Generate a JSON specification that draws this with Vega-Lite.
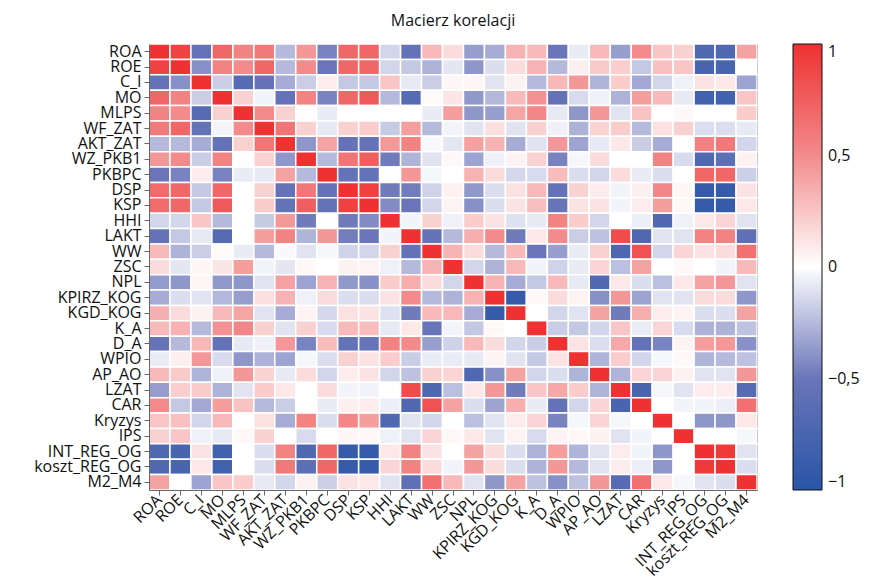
{
"$schema": "https://vega.github.io/schema/vega-lite/v6.json",
"width": 608, "height": 446,
"autosize": "none",
"padding": {"left": 149, "top": 44, "right": 112, "bottom": 97},
"background": "white",
"title": {"text": "Macierz korelacji", "font": "Open Sans", "fontSize": 16, "fontWeight": "normal", "color": "#111", "offset": 14},
"config": {
  "view": {"stroke": "#222", "strokeWidth": 1},
  "axis": {"labelFont": "Open Sans", "labelFontSize": 16, "labelColor": "#111", "tickColor": "#666", "tickSize": 5, "domainColor": "#666", "title": null, "labelPadding": 3}
},
"data": {"values": [
{"y":"ROA","x":"ROA","r":1},{"y":"ROA","x":"ROE","r":0.9},{"y":"ROA","x":"C_I","r":-0.55},{"y":"ROA","x":"MO","r":0.7},{"y":"ROA","x":"MLPS","r":0.55},{"y":"ROA","x":"WF_ZAT","r":0.6},{"y":"ROA","x":"AKT_ZAT","r":-0.25},{"y":"ROA","x":"WZ_PKB1","r":0.45},{"y":"ROA","x":"PKBPC","r":-0.45},{"y":"ROA","x":"DSP","r":0.7},{"y":"ROA","x":"KSP","r":0.7},{"y":"ROA","x":"HHI","r":-0.15},{"y":"ROA","x":"LAKT","r":-0.55},{"y":"ROA","x":"WW","r":0.3},{"y":"ROA","x":"ZSC","r":0.15},{"y":"ROA","x":"NPL","r":-0.35},{"y":"ROA","x":"KPIRZ_KOG","r":-0.3},{"y":"ROA","x":"KGD_KOG","r":0.33},{"y":"ROA","x":"K_A","r":0.3},{"y":"ROA","x":"D_A","r":-0.5},{"y":"ROA","x":"WPIO","r":-0.07},{"y":"ROA","x":"AP_AO","r":0.3},{"y":"ROA","x":"LZAT","r":-0.35},{"y":"ROA","x":"CAR","r":0.5},{"y":"ROA","x":"Kryzys","r":0.25},{"y":"ROA","x":"IPS","r":0.2},{"y":"ROA","x":"INT_REG_OG","r":-0.7},{"y":"ROA","x":"koszt_REG_OG","r":-0.7},{"y":"ROA","x":"M2_M4","r":0.4},
{"y":"ROE","x":"ROA","r":0.9},{"y":"ROE","x":"ROE","r":1},{"y":"ROE","x":"C_I","r":-0.4},{"y":"ROE","x":"MO","r":0.55},{"y":"ROE","x":"MLPS","r":0.5},{"y":"ROE","x":"WF_ZAT","r":0.7},{"y":"ROE","x":"AKT_ZAT","r":-0.25},{"y":"ROE","x":"WZ_PKB1","r":0.5},{"y":"ROE","x":"PKBPC","r":-0.5},{"y":"ROE","x":"DSP","r":0.7},{"y":"ROE","x":"KSP","r":0.7},{"y":"ROE","x":"HHI","r":-0.15},{"y":"ROE","x":"LAKT","r":-0.2},{"y":"ROE","x":"WW","r":-0.28},{"y":"ROE","x":"ZSC","r":-0.09},{"y":"ROE","x":"NPL","r":-0.38},{"y":"ROE","x":"KPIRZ_KOG","r":-0.12},{"y":"ROE","x":"KGD_KOG","r":0.15},{"y":"ROE","x":"K_A","r":0.33},{"y":"ROE","x":"D_A","r":-0.25},{"y":"ROE","x":"WPIO","r":0.07},{"y":"ROE","x":"AP_AO","r":0.23},{"y":"ROE","x":"LZAT","r":0.21},{"y":"ROE","x":"CAR","r":-0.2},{"y":"ROE","x":"Kryzys","r":0.27},{"y":"ROE","x":"IPS","r":0.25},{"y":"ROE","x":"INT_REG_OG","r":-0.75},{"y":"ROE","x":"koszt_REG_OG","r":-0.75},{"y":"ROE","x":"M2_M4","r":0},
{"y":"C_I","x":"ROA","r":-0.55},{"y":"C_I","x":"ROE","r":-0.4},{"y":"C_I","x":"C_I","r":1},{"y":"C_I","x":"MO","r":-0.18},{"y":"C_I","x":"MLPS","r":-0.65},{"y":"C_I","x":"WF_ZAT","r":-0.55},{"y":"C_I","x":"AKT_ZAT","r":-0.3},{"y":"C_I","x":"WZ_PKB1","r":-0.18},{"y":"C_I","x":"PKBPC","r":0.08},{"y":"C_I","x":"DSP","r":-0.2},{"y":"C_I","x":"KSP","r":-0.2},{"y":"C_I","x":"HHI","r":0.25},{"y":"C_I","x":"LAKT","r":-0.08},{"y":"C_I","x":"WW","r":-0.18},{"y":"C_I","x":"ZSC","r":0.04},{"y":"C_I","x":"NPL","r":0.04},{"y":"C_I","x":"KPIRZ_KOG","r":-0.1},{"y":"C_I","x":"KGD_KOG","r":0.06},{"y":"C_I","x":"K_A","r":-0.25},{"y":"C_I","x":"D_A","r":0.31},{"y":"C_I","x":"WPIO","r":0.45},{"y":"C_I","x":"AP_AO","r":-0.27},{"y":"C_I","x":"LZAT","r":0.22},{"y":"C_I","x":"CAR","r":-0.31},{"y":"C_I","x":"Kryzys","r":-0.15},{"y":"C_I","x":"IPS","r":-0.05},{"y":"C_I","x":"INT_REG_OG","r":0.12},{"y":"C_I","x":"koszt_REG_OG","r":0.1},{"y":"C_I","x":"M2_M4","r":-0.33},
{"y":"MO","x":"ROA","r":0.7},{"y":"MO","x":"ROE","r":0.55},{"y":"MO","x":"C_I","r":-0.18},{"y":"MO","x":"MO","r":1},{"y":"MO","x":"MLPS","r":0.2},{"y":"MO","x":"WF_ZAT","r":-0.04},{"y":"MO","x":"AKT_ZAT","r":-0.55},{"y":"MO","x":"WZ_PKB1","r":0.55},{"y":"MO","x":"PKBPC","r":-0.45},{"y":"MO","x":"DSP","r":0.7},{"y":"MO","x":"KSP","r":0.78},{"y":"MO","x":"HHI","r":-0.25},{"y":"MO","x":"LAKT","r":-0.65},{"y":"MO","x":"WW","r":0.02},{"y":"MO","x":"ZSC","r":0.11},{"y":"MO","x":"NPL","r":-0.37},{"y":"MO","x":"KPIRZ_KOG","r":-0.26},{"y":"MO","x":"KGD_KOG","r":0.3},{"y":"MO","x":"K_A","r":0.47},{"y":"MO","x":"D_A","r":-0.55},{"y":"MO","x":"WPIO","r":-0.13},{"y":"MO","x":"AP_AO","r":-0.05},{"y":"MO","x":"LZAT","r":-0.28},{"y":"MO","x":"CAR","r":0.42},{"y":"MO","x":"Kryzys","r":0.3},{"y":"MO","x":"IPS","r":-0.08},{"y":"MO","x":"INT_REG_OG","r":-0.8},{"y":"MO","x":"koszt_REG_OG","r":-0.8},{"y":"MO","x":"M2_M4","r":0.25},
{"y":"MLPS","x":"ROA","r":0.55},{"y":"MLPS","x":"ROE","r":0.5},{"y":"MLPS","x":"C_I","r":-0.65},{"y":"MLPS","x":"MO","r":0.2},{"y":"MLPS","x":"MLPS","r":1},{"y":"MLPS","x":"WF_ZAT","r":0.5},{"y":"MLPS","x":"AKT_ZAT","r":0.2},{"y":"MLPS","x":"WZ_PKB1","r":0.01},{"y":"MLPS","x":"PKBPC","r":-0.07},{"y":"MLPS","x":"DSP","r":0},{"y":"MLPS","x":"KSP","r":0},{"y":"MLPS","x":"HHI","r":0},{"y":"MLPS","x":"LAKT","r":0},{"y":"MLPS","x":"WW","r":-0.07},{"y":"MLPS","x":"ZSC","r":0.42},{"y":"MLPS","x":"NPL","r":-0.38},{"y":"MLPS","x":"KPIRZ_KOG","r":-0.35},{"y":"MLPS","x":"KGD_KOG","r":0.39},{"y":"MLPS","x":"K_A","r":0.52},{"y":"MLPS","x":"D_A","r":-0.08},{"y":"MLPS","x":"WPIO","r":-0.38},{"y":"MLPS","x":"AP_AO","r":0.45},{"y":"MLPS","x":"LZAT","r":-0.1},{"y":"MLPS","x":"CAR","r":0.26},{"y":"MLPS","x":"Kryzys","r":0},{"y":"MLPS","x":"IPS","r":0.03},{"y":"MLPS","x":"INT_REG_OG","r":0},{"y":"MLPS","x":"koszt_REG_OG","r":0},{"y":"MLPS","x":"M2_M4","r":0.22},
{"y":"WF_ZAT","x":"ROA","r":0.6},{"y":"WF_ZAT","x":"ROE","r":0.7},{"y":"WF_ZAT","x":"C_I","r":-0.55},{"y":"WF_ZAT","x":"MO","r":-0.04},{"y":"WF_ZAT","x":"MLPS","r":0.5},{"y":"WF_ZAT","x":"WF_ZAT","r":1},{"y":"WF_ZAT","x":"AKT_ZAT","r":0.62},{"y":"WF_ZAT","x":"WZ_PKB1","r":0.2},{"y":"WF_ZAT","x":"PKBPC","r":-0.08},{"y":"WF_ZAT","x":"DSP","r":0.2},{"y":"WF_ZAT","x":"KSP","r":0.22},{"y":"WF_ZAT","x":"HHI","r":-0.19},{"y":"WF_ZAT","x":"LAKT","r":0.42},{"y":"WF_ZAT","x":"WW","r":-0.25},{"y":"WF_ZAT","x":"ZSC","r":-0.04},{"y":"WF_ZAT","x":"NPL","r":-0.1},{"y":"WF_ZAT","x":"KPIRZ_KOG","r":0.14},{"y":"WF_ZAT","x":"KGD_KOG","r":-0.1},{"y":"WF_ZAT","x":"K_A","r":0.2},{"y":"WF_ZAT","x":"D_A","r":-0.05},{"y":"WF_ZAT","x":"WPIO","r":-0.28},{"y":"WF_ZAT","x":"AP_AO","r":0.19},{"y":"WF_ZAT","x":"LZAT","r":0.22},{"y":"WF_ZAT","x":"CAR","r":-0.25},{"y":"WF_ZAT","x":"Kryzys","r":0.13},{"y":"WF_ZAT","x":"IPS","r":0.2},{"y":"WF_ZAT","x":"INT_REG_OG","r":-0.12},{"y":"WF_ZAT","x":"koszt_REG_OG","r":-0.12},{"y":"WF_ZAT","x":"M2_M4","r":-0.08},
{"y":"AKT_ZAT","x":"ROA","r":-0.25},{"y":"AKT_ZAT","x":"ROE","r":-0.25},{"y":"AKT_ZAT","x":"C_I","r":-0.3},{"y":"AKT_ZAT","x":"MO","r":-0.55},{"y":"AKT_ZAT","x":"MLPS","r":0.2},{"y":"AKT_ZAT","x":"WF_ZAT","r":0.62},{"y":"AKT_ZAT","x":"AKT_ZAT","r":1},{"y":"AKT_ZAT","x":"WZ_PKB1","r":-0.38},{"y":"AKT_ZAT","x":"PKBPC","r":0.4},{"y":"AKT_ZAT","x":"DSP","r":-0.55},{"y":"AKT_ZAT","x":"KSP","r":-0.55},{"y":"AKT_ZAT","x":"HHI","r":0.44},{"y":"AKT_ZAT","x":"LAKT","r":0.55},{"y":"AKT_ZAT","x":"WW","r":-0.02},{"y":"AKT_ZAT","x":"ZSC","r":-0.09},{"y":"AKT_ZAT","x":"NPL","r":0.41},{"y":"AKT_ZAT","x":"KPIRZ_KOG","r":0.33},{"y":"AKT_ZAT","x":"KGD_KOG","r":-0.3},{"y":"AKT_ZAT","x":"K_A","r":-0.1},{"y":"AKT_ZAT","x":"D_A","r":0.45},{"y":"AKT_ZAT","x":"WPIO","r":-0.33},{"y":"AKT_ZAT","x":"AP_AO","r":-0.08},{"y":"AKT_ZAT","x":"LZAT","r":0.1},{"y":"AKT_ZAT","x":"CAR","r":-0.18},{"y":"AKT_ZAT","x":"Kryzys","r":-0.3},{"y":"AKT_ZAT","x":"IPS","r":0},{"y":"AKT_ZAT","x":"INT_REG_OG","r":0.55},{"y":"AKT_ZAT","x":"koszt_REG_OG","r":0.6},{"y":"AKT_ZAT","x":"M2_M4","r":-0.15},
{"y":"WZ_PKB1","x":"ROA","r":0.45},{"y":"WZ_PKB1","x":"ROE","r":0.5},{"y":"WZ_PKB1","x":"C_I","r":-0.18},{"y":"WZ_PKB1","x":"MO","r":0.55},{"y":"WZ_PKB1","x":"MLPS","r":0.01},{"y":"WZ_PKB1","x":"WF_ZAT","r":0.2},{"y":"WZ_PKB1","x":"AKT_ZAT","r":-0.38},{"y":"WZ_PKB1","x":"WZ_PKB1","r":1},{"y":"WZ_PKB1","x":"PKBPC","r":-0.25},{"y":"WZ_PKB1","x":"DSP","r":0.62},{"y":"WZ_PKB1","x":"KSP","r":0.75},{"y":"WZ_PKB1","x":"HHI","r":-0.48},{"y":"WZ_PKB1","x":"LAKT","r":-0.27},{"y":"WZ_PKB1","x":"WW","r":-0.1},{"y":"WZ_PKB1","x":"ZSC","r":0.03},{"y":"WZ_PKB1","x":"NPL","r":-0.33},{"y":"WZ_PKB1","x":"KPIRZ_KOG","r":-0.05},{"y":"WZ_PKB1","x":"KGD_KOG","r":0.05},{"y":"WZ_PKB1","x":"K_A","r":0.2},{"y":"WZ_PKB1","x":"D_A","r":-0.45},{"y":"WZ_PKB1","x":"WPIO","r":-0.03},{"y":"WZ_PKB1","x":"AP_AO","r":0.15},{"y":"WZ_PKB1","x":"LZAT","r":0},{"y":"WZ_PKB1","x":"CAR","r":0},{"y":"WZ_PKB1","x":"Kryzys","r":0.55},{"y":"WZ_PKB1","x":"IPS","r":-0.13},{"y":"WZ_PKB1","x":"INT_REG_OG","r":-0.7},{"y":"WZ_PKB1","x":"koszt_REG_OG","r":-0.6},{"y":"WZ_PKB1","x":"M2_M4","r":0.06},
{"y":"PKBPC","x":"ROA","r":-0.5},{"y":"PKBPC","x":"ROE","r":-0.45},{"y":"PKBPC","x":"C_I","r":0.08},{"y":"PKBPC","x":"MO","r":-0.45},{"y":"PKBPC","x":"MLPS","r":-0.07},{"y":"PKBPC","x":"WF_ZAT","r":-0.08},{"y":"PKBPC","x":"AKT_ZAT","r":0.4},{"y":"PKBPC","x":"WZ_PKB1","r":-0.25},{"y":"PKBPC","x":"PKBPC","r":1},{"y":"PKBPC","x":"DSP","r":-0.55},{"y":"PKBPC","x":"KSP","r":-0.55},{"y":"PKBPC","x":"HHI","r":0},{"y":"PKBPC","x":"LAKT","r":0.45},{"y":"PKBPC","x":"WW","r":-0.03},{"y":"PKBPC","x":"ZSC","r":0},{"y":"PKBPC","x":"NPL","r":0.33},{"y":"PKBPC","x":"KPIRZ_KOG","r":0.16},{"y":"PKBPC","x":"KGD_KOG","r":-0.14},{"y":"PKBPC","x":"K_A","r":-0.13},{"y":"PKBPC","x":"D_A","r":0.29},{"y":"PKBPC","x":"WPIO","r":-0.12},{"y":"PKBPC","x":"AP_AO","r":-0.15},{"y":"PKBPC","x":"LZAT","r":0.15},{"y":"PKBPC","x":"CAR","r":-0.07},{"y":"PKBPC","x":"Kryzys","r":-0.12},{"y":"PKBPC","x":"IPS","r":0},{"y":"PKBPC","x":"INT_REG_OG","r":0.7},{"y":"PKBPC","x":"koszt_REG_OG","r":0.7},{"y":"PKBPC","x":"M2_M4","r":-0.17},
{"y":"DSP","x":"ROA","r":0.68},{"y":"DSP","x":"ROE","r":0.7},{"y":"DSP","x":"C_I","r":-0.2},{"y":"DSP","x":"MO","r":0.7},{"y":"DSP","x":"MLPS","r":0},{"y":"DSP","x":"WF_ZAT","r":0.2},{"y":"DSP","x":"AKT_ZAT","r":-0.55},{"y":"DSP","x":"WZ_PKB1","r":0.61},{"y":"DSP","x":"PKBPC","r":-0.55},{"y":"DSP","x":"DSP","r":1},{"y":"DSP","x":"KSP","r":0.91},{"y":"DSP","x":"HHI","r":-0.48},{"y":"DSP","x":"LAKT","r":-0.47},{"y":"DSP","x":"WW","r":-0.16},{"y":"DSP","x":"ZSC","r":0.06},{"y":"DSP","x":"NPL","r":-0.37},{"y":"DSP","x":"KPIRZ_KOG","r":-0.12},{"y":"DSP","x":"KGD_KOG","r":0.13},{"y":"DSP","x":"K_A","r":0.3},{"y":"DSP","x":"D_A","r":-0.55},{"y":"DSP","x":"WPIO","r":0.2},{"y":"DSP","x":"AP_AO","r":0.08},{"y":"DSP","x":"LZAT","r":-0.04},{"y":"DSP","x":"CAR","r":0.07},{"y":"DSP","x":"Kryzys","r":0.52},{"y":"DSP","x":"IPS","r":0.04},{"y":"DSP","x":"INT_REG_OG","r":-0.9},{"y":"DSP","x":"koszt_REG_OG","r":-0.9},{"y":"DSP","x":"M2_M4","r":0.12},
{"y":"KSP","x":"ROA","r":0.68},{"y":"KSP","x":"ROE","r":0.7},{"y":"KSP","x":"C_I","r":-0.2},{"y":"KSP","x":"MO","r":0.78},{"y":"KSP","x":"MLPS","r":0},{"y":"KSP","x":"WF_ZAT","r":0.22},{"y":"KSP","x":"AKT_ZAT","r":-0.55},{"y":"KSP","x":"WZ_PKB1","r":0.75},{"y":"KSP","x":"PKBPC","r":-0.55},{"y":"KSP","x":"DSP","r":0.91},{"y":"KSP","x":"KSP","r":1},{"y":"KSP","x":"HHI","r":-0.42},{"y":"KSP","x":"LAKT","r":-0.5},{"y":"KSP","x":"WW","r":-0.15},{"y":"KSP","x":"ZSC","r":0.05},{"y":"KSP","x":"NPL","r":-0.4},{"y":"KSP","x":"KPIRZ_KOG","r":-0.12},{"y":"KSP","x":"KGD_KOG","r":0.12},{"y":"KSP","x":"K_A","r":0.28},{"y":"KSP","x":"D_A","r":-0.52},{"y":"KSP","x":"WPIO","r":0.12},{"y":"KSP","x":"AP_AO","r":0.12},{"y":"KSP","x":"LZAT","r":-0.04},{"y":"KSP","x":"CAR","r":0.08},{"y":"KSP","x":"Kryzys","r":0.42},{"y":"KSP","x":"IPS","r":0.03},{"y":"KSP","x":"INT_REG_OG","r":-0.9},{"y":"KSP","x":"koszt_REG_OG","r":-0.9},{"y":"KSP","x":"M2_M4","r":0.1},
{"y":"HHI","x":"ROA","r":-0.15},{"y":"HHI","x":"ROE","r":-0.15},{"y":"HHI","x":"C_I","r":0.25},{"y":"HHI","x":"MO","r":-0.25},{"y":"HHI","x":"MLPS","r":0},{"y":"HHI","x":"WF_ZAT","r":-0.19},{"y":"HHI","x":"AKT_ZAT","r":0.44},{"y":"HHI","x":"WZ_PKB1","r":-0.48},{"y":"HHI","x":"PKBPC","r":0},{"y":"HHI","x":"DSP","r":-0.48},{"y":"HHI","x":"KSP","r":-0.42},{"y":"HHI","x":"HHI","r":1},{"y":"HHI","x":"LAKT","r":-0.04},{"y":"HHI","x":"WW","r":0.2},{"y":"HHI","x":"ZSC","r":-0.05},{"y":"HHI","x":"NPL","r":0.22},{"y":"HHI","x":"KPIRZ_KOG","r":0.12},{"y":"HHI","x":"KGD_KOG","r":-0.11},{"y":"HHI","x":"K_A","r":-0.08},{"y":"HHI","x":"D_A","r":0.55},{"y":"HHI","x":"WPIO","r":0.22},{"y":"HHI","x":"AP_AO","r":-0.15},{"y":"HHI","x":"LZAT","r":0},{"y":"HHI","x":"CAR","r":-0.06},{"y":"HHI","x":"Kryzys","r":-0.7},{"y":"HHI","x":"IPS","r":-0.05},{"y":"HHI","x":"INT_REG_OG","r":0.1},{"y":"HHI","x":"koszt_REG_OG","r":0.18},{"y":"HHI","x":"M2_M4","r":-0.1},
{"y":"LAKT","x":"ROA","r":-0.55},{"y":"LAKT","x":"ROE","r":-0.2},{"y":"LAKT","x":"C_I","r":-0.08},{"y":"LAKT","x":"MO","r":-0.65},{"y":"LAKT","x":"MLPS","r":0},{"y":"LAKT","x":"WF_ZAT","r":0.42},{"y":"LAKT","x":"AKT_ZAT","r":0.55},{"y":"LAKT","x":"WZ_PKB1","r":-0.27},{"y":"LAKT","x":"PKBPC","r":0.45},{"y":"LAKT","x":"DSP","r":-0.47},{"y":"LAKT","x":"KSP","r":-0.5},{"y":"LAKT","x":"HHI","r":-0.04},{"y":"LAKT","x":"LAKT","r":1},{"y":"LAKT","x":"WW","r":-0.55},{"y":"LAKT","x":"ZSC","r":-0.25},{"y":"LAKT","x":"NPL","r":0.35},{"y":"LAKT","x":"KPIRZ_KOG","r":0.5},{"y":"LAKT","x":"KGD_KOG","r":-0.48},{"y":"LAKT","x":"K_A","r":0.1},{"y":"LAKT","x":"D_A","r":0.5},{"y":"LAKT","x":"WPIO","r":-0.18},{"y":"LAKT","x":"AP_AO","r":-0.22},{"y":"LAKT","x":"LZAT","r":0.85},{"y":"LAKT","x":"CAR","r":-0.7},{"y":"LAKT","x":"Kryzys","r":-0.1},{"y":"LAKT","x":"IPS","r":-0.1},{"y":"LAKT","x":"INT_REG_OG","r":0.55},{"y":"LAKT","x":"koszt_REG_OG","r":0.55},{"y":"LAKT","x":"M2_M4","r":-0.58},
{"y":"WW","x":"ROA","r":0.3},{"y":"WW","x":"ROE","r":-0.28},{"y":"WW","x":"C_I","r":-0.18},{"y":"WW","x":"MO","r":0.02},{"y":"WW","x":"MLPS","r":-0.07},{"y":"WW","x":"WF_ZAT","r":-0.25},{"y":"WW","x":"AKT_ZAT","r":-0.02},{"y":"WW","x":"WZ_PKB1","r":-0.1},{"y":"WW","x":"PKBPC","r":-0.03},{"y":"WW","x":"DSP","r":-0.16},{"y":"WW","x":"KSP","r":-0.15},{"y":"WW","x":"HHI","r":0.2},{"y":"WW","x":"LAKT","r":-0.55},{"y":"WW","x":"WW","r":1},{"y":"WW","x":"ZSC","r":0.33},{"y":"WW","x":"NPL","r":0.15},{"y":"WW","x":"KPIRZ_KOG","r":-0.25},{"y":"WW","x":"KGD_KOG","r":0.3},{"y":"WW","x":"K_A","r":-0.5},{"y":"WW","x":"D_A","r":-0.35},{"y":"WW","x":"WPIO","r":-0.07},{"y":"WW","x":"AP_AO","r":0.2},{"y":"WW","x":"LZAT","r":-0.72},{"y":"WW","x":"CAR","r":0.82},{"y":"WW","x":"Kryzys","r":-0.15},{"y":"WW","x":"IPS","r":0.18},{"y":"WW","x":"INT_REG_OG","r":0.12},{"y":"WW","x":"koszt_REG_OG","r":0.15},{"y":"WW","x":"M2_M4","r":0.65},
{"y":"ZSC","x":"ROA","r":0.15},{"y":"ZSC","x":"ROE","r":-0.09},{"y":"ZSC","x":"C_I","r":0.04},{"y":"ZSC","x":"MO","r":0.11},{"y":"ZSC","x":"MLPS","r":0.42},{"y":"ZSC","x":"WF_ZAT","r":-0.04},{"y":"ZSC","x":"AKT_ZAT","r":-0.09},{"y":"ZSC","x":"WZ_PKB1","r":0.03},{"y":"ZSC","x":"PKBPC","r":0},{"y":"ZSC","x":"DSP","r":0.06},{"y":"ZSC","x":"KSP","r":0.05},{"y":"ZSC","x":"HHI","r":-0.05},{"y":"ZSC","x":"LAKT","r":-0.25},{"y":"ZSC","x":"WW","r":0.33},{"y":"ZSC","x":"ZSC","r":1},{"y":"ZSC","x":"NPL","r":-0.15},{"y":"ZSC","x":"KPIRZ_KOG","r":-0.28},{"y":"ZSC","x":"KGD_KOG","r":0.3},{"y":"ZSC","x":"K_A","r":-0.04},{"y":"ZSC","x":"D_A","r":-0.16},{"y":"ZSC","x":"WPIO","r":-0.07},{"y":"ZSC","x":"AP_AO","r":0.18},{"y":"ZSC","x":"LZAT","r":-0.23},{"y":"ZSC","x":"CAR","r":0.4},{"y":"ZSC","x":"Kryzys","r":0},{"y":"ZSC","x":"IPS","r":0.03},{"y":"ZSC","x":"INT_REG_OG","r":0},{"y":"ZSC","x":"koszt_REG_OG","r":-0.04},{"y":"ZSC","x":"M2_M4","r":0.3},
{"y":"NPL","x":"ROA","r":-0.36},{"y":"NPL","x":"ROE","r":-0.38},{"y":"NPL","x":"C_I","r":0.04},{"y":"NPL","x":"MO","r":-0.37},{"y":"NPL","x":"MLPS","r":-0.38},{"y":"NPL","x":"WF_ZAT","r":-0.1},{"y":"NPL","x":"AKT_ZAT","r":0.41},{"y":"NPL","x":"WZ_PKB1","r":-0.33},{"y":"NPL","x":"PKBPC","r":0.33},{"y":"NPL","x":"DSP","r":-0.37},{"y":"NPL","x":"KSP","r":-0.4},{"y":"NPL","x":"HHI","r":0.22},{"y":"NPL","x":"LAKT","r":0.35},{"y":"NPL","x":"WW","r":0.15},{"y":"NPL","x":"ZSC","r":-0.15},{"y":"NPL","x":"NPL","r":1},{"y":"NPL","x":"KPIRZ_KOG","r":0.33},{"y":"NPL","x":"KGD_KOG","r":-0.3},{"y":"NPL","x":"K_A","r":-0.2},{"y":"NPL","x":"D_A","r":0.3},{"y":"NPL","x":"WPIO","r":-0.08},{"y":"NPL","x":"AP_AO","r":-0.7},{"y":"NPL","x":"LZAT","r":0.1},{"y":"NPL","x":"CAR","r":-0.12},{"y":"NPL","x":"Kryzys","r":-0.23},{"y":"NPL","x":"IPS","r":0.1},{"y":"NPL","x":"INT_REG_OG","r":0.4},{"y":"NPL","x":"koszt_REG_OG","r":0.45},{"y":"NPL","x":"M2_M4","r":-0.1},
{"y":"KPIRZ_KOG","x":"ROA","r":-0.3},{"y":"KPIRZ_KOG","x":"ROE","r":-0.12},{"y":"KPIRZ_KOG","x":"C_I","r":-0.1},{"y":"KPIRZ_KOG","x":"MO","r":-0.26},{"y":"KPIRZ_KOG","x":"MLPS","r":-0.35},{"y":"KPIRZ_KOG","x":"WF_ZAT","r":0.14},{"y":"KPIRZ_KOG","x":"AKT_ZAT","r":0.33},{"y":"KPIRZ_KOG","x":"WZ_PKB1","r":-0.05},{"y":"KPIRZ_KOG","x":"PKBPC","r":0.16},{"y":"KPIRZ_KOG","x":"DSP","r":-0.12},{"y":"KPIRZ_KOG","x":"KSP","r":-0.12},{"y":"KPIRZ_KOG","x":"HHI","r":0.12},{"y":"KPIRZ_KOG","x":"LAKT","r":0.5},{"y":"KPIRZ_KOG","x":"WW","r":-0.25},{"y":"KPIRZ_KOG","x":"ZSC","r":-0.28},{"y":"KPIRZ_KOG","x":"NPL","r":0.33},{"y":"KPIRZ_KOG","x":"KPIRZ_KOG","r":1},{"y":"KPIRZ_KOG","x":"KGD_KOG","r":-0.9},{"y":"KPIRZ_KOG","x":"K_A","r":0.03},{"y":"KPIRZ_KOG","x":"D_A","r":0.15},{"y":"KPIRZ_KOG","x":"WPIO","r":0.05},{"y":"KPIRZ_KOG","x":"AP_AO","r":-0.4},{"y":"KPIRZ_KOG","x":"LZAT","r":0.45},{"y":"KPIRZ_KOG","x":"CAR","r":-0.33},{"y":"KPIRZ_KOG","x":"Kryzys","r":-0.1},{"y":"KPIRZ_KOG","x":"IPS","r":-0.1},{"y":"KPIRZ_KOG","x":"INT_REG_OG","r":0.15},{"y":"KPIRZ_KOG","x":"koszt_REG_OG","r":0.15},{"y":"KPIRZ_KOG","x":"M2_M4","r":-0.38},
{"y":"KGD_KOG","x":"ROA","r":0.34},{"y":"KGD_KOG","x":"ROE","r":0.15},{"y":"KGD_KOG","x":"C_I","r":0.06},{"y":"KGD_KOG","x":"MO","r":0.3},{"y":"KGD_KOG","x":"MLPS","r":0.39},{"y":"KGD_KOG","x":"WF_ZAT","r":-0.1},{"y":"KGD_KOG","x":"AKT_ZAT","r":-0.3},{"y":"KGD_KOG","x":"WZ_PKB1","r":0.05},{"y":"KGD_KOG","x":"PKBPC","r":-0.14},{"y":"KGD_KOG","x":"DSP","r":0.13},{"y":"KGD_KOG","x":"KSP","r":0.12},{"y":"KGD_KOG","x":"HHI","r":-0.11},{"y":"KGD_KOG","x":"LAKT","r":-0.48},{"y":"KGD_KOG","x":"WW","r":0.3},{"y":"KGD_KOG","x":"ZSC","r":0.3},{"y":"KGD_KOG","x":"NPL","r":-0.3},{"y":"KGD_KOG","x":"KPIRZ_KOG","r":-0.9},{"y":"KGD_KOG","x":"KGD_KOG","r":1},{"y":"KGD_KOG","x":"K_A","r":0},{"y":"KGD_KOG","x":"D_A","r":-0.15},{"y":"KGD_KOG","x":"WPIO","r":-0.1},{"y":"KGD_KOG","x":"AP_AO","r":0.4},{"y":"KGD_KOG","x":"LZAT","r":-0.48},{"y":"KGD_KOG","x":"CAR","r":0.35},{"y":"KGD_KOG","x":"Kryzys","r":0.08},{"y":"KGD_KOG","x":"IPS","r":0.05},{"y":"KGD_KOG","x":"INT_REG_OG","r":-0.12},{"y":"KGD_KOG","x":"koszt_REG_OG","r":-0.12},{"y":"KGD_KOG","x":"M2_M4","r":0.4},
{"y":"K_A","x":"ROA","r":0.3},{"y":"K_A","x":"ROE","r":0.33},{"y":"K_A","x":"C_I","r":-0.25},{"y":"K_A","x":"MO","r":0.47},{"y":"K_A","x":"MLPS","r":0.52},{"y":"K_A","x":"WF_ZAT","r":0.2},{"y":"K_A","x":"AKT_ZAT","r":-0.1},{"y":"K_A","x":"WZ_PKB1","r":0.2},{"y":"K_A","x":"PKBPC","r":-0.13},{"y":"K_A","x":"DSP","r":0.3},{"y":"K_A","x":"KSP","r":0.28},{"y":"K_A","x":"HHI","r":-0.08},{"y":"K_A","x":"LAKT","r":0.1},{"y":"K_A","x":"WW","r":-0.5},{"y":"K_A","x":"ZSC","r":-0.04},{"y":"K_A","x":"NPL","r":-0.2},{"y":"K_A","x":"KPIRZ_KOG","r":0.03},{"y":"K_A","x":"KGD_KOG","r":0},{"y":"K_A","x":"K_A","r":1},{"y":"K_A","x":"D_A","r":-0.18},{"y":"K_A","x":"WPIO","r":-0.2},{"y":"K_A","x":"AP_AO","r":-0.15},{"y":"K_A","x":"LZAT","r":0.25},{"y":"K_A","x":"CAR","r":-0.07},{"y":"K_A","x":"Kryzys","r":0.18},{"y":"K_A","x":"IPS","r":-0.13},{"y":"K_A","x":"INT_REG_OG","r":-0.28},{"y":"K_A","x":"koszt_REG_OG","r":-0.28},{"y":"K_A","x":"M2_M4","r":-0.22},
{"y":"D_A","x":"ROA","r":-0.53},{"y":"D_A","x":"ROE","r":-0.25},{"y":"D_A","x":"C_I","r":0.31},{"y":"D_A","x":"MO","r":-0.55},{"y":"D_A","x":"MLPS","r":-0.08},{"y":"D_A","x":"WF_ZAT","r":-0.05},{"y":"D_A","x":"AKT_ZAT","r":0.45},{"y":"D_A","x":"WZ_PKB1","r":-0.45},{"y":"D_A","x":"PKBPC","r":0.29},{"y":"D_A","x":"DSP","r":-0.55},{"y":"D_A","x":"KSP","r":-0.52},{"y":"D_A","x":"HHI","r":0.55},{"y":"D_A","x":"LAKT","r":0.5},{"y":"D_A","x":"WW","r":-0.35},{"y":"D_A","x":"ZSC","r":-0.16},{"y":"D_A","x":"NPL","r":0.3},{"y":"D_A","x":"KPIRZ_KOG","r":0.15},{"y":"D_A","x":"KGD_KOG","r":-0.15},{"y":"D_A","x":"K_A","r":-0.18},{"y":"D_A","x":"D_A","r":1},{"y":"D_A","x":"WPIO","r":0.12},{"y":"D_A","x":"AP_AO","r":-0.12},{"y":"D_A","x":"LZAT","r":0.38},{"y":"D_A","x":"CAR","r":-0.55},{"y":"D_A","x":"Kryzys","r":-0.45},{"y":"D_A","x":"IPS","r":0.05},{"y":"D_A","x":"INT_REG_OG","r":0.42},{"y":"D_A","x":"koszt_REG_OG","r":0.45},{"y":"D_A","x":"M2_M4","r":-0.4},
{"y":"WPIO","x":"ROA","r":-0.07},{"y":"WPIO","x":"ROE","r":0.07},{"y":"WPIO","x":"C_I","r":0.45},{"y":"WPIO","x":"MO","r":-0.13},{"y":"WPIO","x":"MLPS","r":-0.38},{"y":"WPIO","x":"WF_ZAT","r":-0.28},{"y":"WPIO","x":"AKT_ZAT","r":-0.33},{"y":"WPIO","x":"WZ_PKB1","r":-0.03},{"y":"WPIO","x":"PKBPC","r":-0.12},{"y":"WPIO","x":"DSP","r":0.2},{"y":"WPIO","x":"KSP","r":0.12},{"y":"WPIO","x":"HHI","r":0.22},{"y":"WPIO","x":"LAKT","r":-0.18},{"y":"WPIO","x":"WW","r":-0.07},{"y":"WPIO","x":"ZSC","r":-0.07},{"y":"WPIO","x":"NPL","r":-0.08},{"y":"WPIO","x":"KPIRZ_KOG","r":0.05},{"y":"WPIO","x":"KGD_KOG","r":-0.1},{"y":"WPIO","x":"K_A","r":-0.2},{"y":"WPIO","x":"D_A","r":0.12},{"y":"WPIO","x":"WPIO","r":1},{"y":"WPIO","x":"AP_AO","r":-0.27},{"y":"WPIO","x":"LZAT","r":0.22},{"y":"WPIO","x":"CAR","r":-0.15},{"y":"WPIO","x":"Kryzys","r":-0.03},{"y":"WPIO","x":"IPS","r":0.03},{"y":"WPIO","x":"INT_REG_OG","r":-0.27},{"y":"WPIO","x":"koszt_REG_OG","r":-0.25},{"y":"WPIO","x":"M2_M4","r":-0.22},
{"y":"AP_AO","x":"ROA","r":0.3},{"y":"AP_AO","x":"ROE","r":0.23},{"y":"AP_AO","x":"C_I","r":-0.27},{"y":"AP_AO","x":"MO","r":-0.05},{"y":"AP_AO","x":"MLPS","r":0.45},{"y":"AP_AO","x":"WF_ZAT","r":0.19},{"y":"AP_AO","x":"AKT_ZAT","r":-0.08},{"y":"AP_AO","x":"WZ_PKB1","r":0.15},{"y":"AP_AO","x":"PKBPC","r":-0.15},{"y":"AP_AO","x":"DSP","r":0.08},{"y":"AP_AO","x":"KSP","r":0.12},{"y":"AP_AO","x":"HHI","r":-0.15},{"y":"AP_AO","x":"LAKT","r":-0.22},{"y":"AP_AO","x":"WW","r":0.2},{"y":"AP_AO","x":"ZSC","r":0.18},{"y":"AP_AO","x":"NPL","r":-0.7},{"y":"AP_AO","x":"KPIRZ_KOG","r":-0.4},{"y":"AP_AO","x":"KGD_KOG","r":0.4},{"y":"AP_AO","x":"K_A","r":-0.15},{"y":"AP_AO","x":"D_A","r":-0.12},{"y":"AP_AO","x":"WPIO","r":-0.27},{"y":"AP_AO","x":"AP_AO","r":1},{"y":"AP_AO","x":"LZAT","r":-0.27},{"y":"AP_AO","x":"CAR","r":0.18},{"y":"AP_AO","x":"Kryzys","r":0.18},{"y":"AP_AO","x":"IPS","r":0.06},{"y":"AP_AO","x":"INT_REG_OG","r":-0.1},{"y":"AP_AO","x":"koszt_REG_OG","r":-0.1},{"y":"AP_AO","x":"M2_M4","r":0.45},
{"y":"LZAT","x":"ROA","r":-0.35},{"y":"LZAT","x":"ROE","r":0.21},{"y":"LZAT","x":"C_I","r":0.22},{"y":"LZAT","x":"MO","r":-0.28},{"y":"LZAT","x":"MLPS","r":-0.1},{"y":"LZAT","x":"WF_ZAT","r":0.22},{"y":"LZAT","x":"AKT_ZAT","r":0.1},{"y":"LZAT","x":"WZ_PKB1","r":0},{"y":"LZAT","x":"PKBPC","r":0.15},{"y":"LZAT","x":"DSP","r":-0.04},{"y":"LZAT","x":"KSP","r":-0.04},{"y":"LZAT","x":"HHI","r":0},{"y":"LZAT","x":"LAKT","r":0.85},{"y":"LZAT","x":"WW","r":-0.72},{"y":"LZAT","x":"ZSC","r":-0.23},{"y":"LZAT","x":"NPL","r":0.1},{"y":"LZAT","x":"KPIRZ_KOG","r":0.45},{"y":"LZAT","x":"KGD_KOG","r":-0.48},{"y":"LZAT","x":"K_A","r":0.25},{"y":"LZAT","x":"D_A","r":0.38},{"y":"LZAT","x":"WPIO","r":0.22},{"y":"LZAT","x":"AP_AO","r":-0.27},{"y":"LZAT","x":"LZAT","r":1},{"y":"LZAT","x":"CAR","r":-0.75},{"y":"LZAT","x":"Kryzys","r":-0.03},{"y":"LZAT","x":"IPS","r":-0.1},{"y":"LZAT","x":"INT_REG_OG","r":0.08},{"y":"LZAT","x":"koszt_REG_OG","r":0.08},{"y":"LZAT","x":"M2_M4","r":-0.65},
{"y":"CAR","x":"ROA","r":0.5},{"y":"CAR","x":"ROE","r":-0.2},{"y":"CAR","x":"C_I","r":-0.31},{"y":"CAR","x":"MO","r":0.42},{"y":"CAR","x":"MLPS","r":0.26},{"y":"CAR","x":"WF_ZAT","r":-0.25},{"y":"CAR","x":"AKT_ZAT","r":-0.18},{"y":"CAR","x":"WZ_PKB1","r":0},{"y":"CAR","x":"PKBPC","r":-0.07},{"y":"CAR","x":"DSP","r":0.07},{"y":"CAR","x":"KSP","r":0.08},{"y":"CAR","x":"HHI","r":-0.06},{"y":"CAR","x":"LAKT","r":-0.7},{"y":"CAR","x":"WW","r":0.82},{"y":"CAR","x":"ZSC","r":0.4},{"y":"CAR","x":"NPL","r":-0.12},{"y":"CAR","x":"KPIRZ_KOG","r":-0.33},{"y":"CAR","x":"KGD_KOG","r":0.35},{"y":"CAR","x":"K_A","r":-0.07},{"y":"CAR","x":"D_A","r":-0.55},{"y":"CAR","x":"WPIO","r":-0.15},{"y":"CAR","x":"AP_AO","r":0.18},{"y":"CAR","x":"LZAT","r":-0.75},{"y":"CAR","x":"CAR","r":1},{"y":"CAR","x":"Kryzys","r":0},{"y":"CAR","x":"IPS","r":-0.04},{"y":"CAR","x":"INT_REG_OG","r":-0.04},{"y":"CAR","x":"koszt_REG_OG","r":-0.06},{"y":"CAR","x":"M2_M4","r":0.65},
{"y":"Kryzys","x":"ROA","r":0.25},{"y":"Kryzys","x":"ROE","r":0.27},{"y":"Kryzys","x":"C_I","r":-0.15},{"y":"Kryzys","x":"MO","r":0.3},{"y":"Kryzys","x":"MLPS","r":0},{"y":"Kryzys","x":"WF_ZAT","r":0.13},{"y":"Kryzys","x":"AKT_ZAT","r":-0.3},{"y":"Kryzys","x":"WZ_PKB1","r":0.55},{"y":"Kryzys","x":"PKBPC","r":-0.12},{"y":"Kryzys","x":"DSP","r":0.52},{"y":"Kryzys","x":"KSP","r":0.42},{"y":"Kryzys","x":"HHI","r":-0.7},{"y":"Kryzys","x":"LAKT","r":-0.1},{"y":"Kryzys","x":"WW","r":-0.15},{"y":"Kryzys","x":"ZSC","r":0},{"y":"Kryzys","x":"NPL","r":-0.23},{"y":"Kryzys","x":"KPIRZ_KOG","r":-0.1},{"y":"Kryzys","x":"KGD_KOG","r":0.08},{"y":"Kryzys","x":"K_A","r":0.18},{"y":"Kryzys","x":"D_A","r":-0.45},{"y":"Kryzys","x":"WPIO","r":-0.03},{"y":"Kryzys","x":"AP_AO","r":0.18},{"y":"Kryzys","x":"LZAT","r":-0.03},{"y":"Kryzys","x":"CAR","r":0},{"y":"Kryzys","x":"Kryzys","r":1},{"y":"Kryzys","x":"IPS","r":0},{"y":"Kryzys","x":"INT_REG_OG","r":-0.38},{"y":"Kryzys","x":"koszt_REG_OG","r":-0.38},{"y":"Kryzys","x":"M2_M4","r":0.1},
{"y":"IPS","x":"ROA","r":0.2},{"y":"IPS","x":"ROE","r":0.25},{"y":"IPS","x":"C_I","r":-0.05},{"y":"IPS","x":"MO","r":-0.08},{"y":"IPS","x":"MLPS","r":0.03},{"y":"IPS","x":"WF_ZAT","r":0.2},{"y":"IPS","x":"AKT_ZAT","r":0},{"y":"IPS","x":"WZ_PKB1","r":-0.13},{"y":"IPS","x":"PKBPC","r":0},{"y":"IPS","x":"DSP","r":0.04},{"y":"IPS","x":"KSP","r":0.03},{"y":"IPS","x":"HHI","r":-0.05},{"y":"IPS","x":"LAKT","r":-0.1},{"y":"IPS","x":"WW","r":0.18},{"y":"IPS","x":"ZSC","r":0.03},{"y":"IPS","x":"NPL","r":0.1},{"y":"IPS","x":"KPIRZ_KOG","r":-0.1},{"y":"IPS","x":"KGD_KOG","r":0.05},{"y":"IPS","x":"K_A","r":-0.13},{"y":"IPS","x":"D_A","r":0.05},{"y":"IPS","x":"WPIO","r":0.03},{"y":"IPS","x":"AP_AO","r":0.06},{"y":"IPS","x":"LZAT","r":-0.1},{"y":"IPS","x":"CAR","r":-0.04},{"y":"IPS","x":"Kryzys","r":0},{"y":"IPS","x":"IPS","r":1},{"y":"IPS","x":"INT_REG_OG","r":0},{"y":"IPS","x":"koszt_REG_OG","r":0},{"y":"IPS","x":"M2_M4","r":-0.03},
{"y":"INT_REG_OG","x":"ROA","r":-0.7},{"y":"INT_REG_OG","x":"ROE","r":-0.75},{"y":"INT_REG_OG","x":"C_I","r":0.12},{"y":"INT_REG_OG","x":"MO","r":-0.8},{"y":"INT_REG_OG","x":"MLPS","r":0},{"y":"INT_REG_OG","x":"WF_ZAT","r":-0.12},{"y":"INT_REG_OG","x":"AKT_ZAT","r":0.55},{"y":"INT_REG_OG","x":"WZ_PKB1","r":-0.7},{"y":"INT_REG_OG","x":"PKBPC","r":0.7},{"y":"INT_REG_OG","x":"DSP","r":-0.9},{"y":"INT_REG_OG","x":"KSP","r":-0.9},{"y":"INT_REG_OG","x":"HHI","r":0.1},{"y":"INT_REG_OG","x":"LAKT","r":0.55},{"y":"INT_REG_OG","x":"WW","r":0.12},{"y":"INT_REG_OG","x":"ZSC","r":0},{"y":"INT_REG_OG","x":"NPL","r":0.4},{"y":"INT_REG_OG","x":"KPIRZ_KOG","r":0.15},{"y":"INT_REG_OG","x":"KGD_KOG","r":-0.12},{"y":"INT_REG_OG","x":"K_A","r":-0.28},{"y":"INT_REG_OG","x":"D_A","r":0.42},{"y":"INT_REG_OG","x":"WPIO","r":-0.27},{"y":"INT_REG_OG","x":"AP_AO","r":-0.1},{"y":"INT_REG_OG","x":"LZAT","r":0.08},{"y":"INT_REG_OG","x":"CAR","r":-0.04},{"y":"INT_REG_OG","x":"Kryzys","r":-0.38},{"y":"INT_REG_OG","x":"IPS","r":0},{"y":"INT_REG_OG","x":"INT_REG_OG","r":1},{"y":"INT_REG_OG","x":"koszt_REG_OG","r":0.95},{"y":"INT_REG_OG","x":"M2_M4","r":-0.1},
{"y":"koszt_REG_OG","x":"ROA","r":-0.7},{"y":"koszt_REG_OG","x":"ROE","r":-0.75},{"y":"koszt_REG_OG","x":"C_I","r":0.1},{"y":"koszt_REG_OG","x":"MO","r":-0.8},{"y":"koszt_REG_OG","x":"MLPS","r":0},{"y":"koszt_REG_OG","x":"WF_ZAT","r":-0.12},{"y":"koszt_REG_OG","x":"AKT_ZAT","r":0.6},{"y":"koszt_REG_OG","x":"WZ_PKB1","r":-0.6},{"y":"koszt_REG_OG","x":"PKBPC","r":0.7},{"y":"koszt_REG_OG","x":"DSP","r":-0.9},{"y":"koszt_REG_OG","x":"KSP","r":-0.9},{"y":"koszt_REG_OG","x":"HHI","r":0.18},{"y":"koszt_REG_OG","x":"LAKT","r":0.55},{"y":"koszt_REG_OG","x":"WW","r":0.15},{"y":"koszt_REG_OG","x":"ZSC","r":-0.04},{"y":"koszt_REG_OG","x":"NPL","r":0.45},{"y":"koszt_REG_OG","x":"KPIRZ_KOG","r":0.15},{"y":"koszt_REG_OG","x":"KGD_KOG","r":-0.12},{"y":"koszt_REG_OG","x":"K_A","r":-0.28},{"y":"koszt_REG_OG","x":"D_A","r":0.45},{"y":"koszt_REG_OG","x":"WPIO","r":-0.25},{"y":"koszt_REG_OG","x":"AP_AO","r":-0.1},{"y":"koszt_REG_OG","x":"LZAT","r":0.08},{"y":"koszt_REG_OG","x":"CAR","r":-0.06},{"y":"koszt_REG_OG","x":"Kryzys","r":-0.38},{"y":"koszt_REG_OG","x":"IPS","r":0},{"y":"koszt_REG_OG","x":"INT_REG_OG","r":0.95},{"y":"koszt_REG_OG","x":"koszt_REG_OG","r":1},{"y":"koszt_REG_OG","x":"M2_M4","r":-0.12},
{"y":"M2_M4","x":"ROA","r":0.4},{"y":"M2_M4","x":"ROE","r":0},{"y":"M2_M4","x":"C_I","r":-0.33},{"y":"M2_M4","x":"MO","r":0.25},{"y":"M2_M4","x":"MLPS","r":0.22},{"y":"M2_M4","x":"WF_ZAT","r":-0.08},{"y":"M2_M4","x":"AKT_ZAT","r":-0.15},{"y":"M2_M4","x":"WZ_PKB1","r":0.06},{"y":"M2_M4","x":"PKBPC","r":-0.17},{"y":"M2_M4","x":"DSP","r":0.12},{"y":"M2_M4","x":"KSP","r":0.1},{"y":"M2_M4","x":"HHI","r":-0.1},{"y":"M2_M4","x":"LAKT","r":-0.58},{"y":"M2_M4","x":"WW","r":0.65},{"y":"M2_M4","x":"ZSC","r":0.3},{"y":"M2_M4","x":"NPL","r":-0.1},{"y":"M2_M4","x":"KPIRZ_KOG","r":-0.38},{"y":"M2_M4","x":"KGD_KOG","r":0.4},{"y":"M2_M4","x":"K_A","r":-0.22},{"y":"M2_M4","x":"D_A","r":-0.4},{"y":"M2_M4","x":"WPIO","r":-0.22},{"y":"M2_M4","x":"AP_AO","r":0.45},{"y":"M2_M4","x":"LZAT","r":-0.65},{"y":"M2_M4","x":"CAR","r":0.65},{"y":"M2_M4","x":"Kryzys","r":0.1},{"y":"M2_M4","x":"IPS","r":-0.03},{"y":"M2_M4","x":"INT_REG_OG","r":-0.1},{"y":"M2_M4","x":"koszt_REG_OG","r":-0.12},{"y":"M2_M4","x":"M2_M4","r":1}
]},
"mark": {"type": "rect", "stroke": "white", "strokeWidth": 1.5},
"encoding": {
  "x": {"field": "x", "type": "nominal", "sort": ["ROA","ROE","C_I","MO","MLPS","WF_ZAT","AKT_ZAT","WZ_PKB1","PKBPC","DSP","KSP","HHI","LAKT","WW","ZSC","NPL","KPIRZ_KOG","KGD_KOG","K_A","D_A","WPIO","AP_AO","LZAT","CAR","Kryzys","IPS","INT_REG_OG","koszt_REG_OG","M2_M4"],
        "axis": {"labelAngle": -45, "labelAlign": "right", "labelBaseline": "middle", "labelPadding": 2}},
  "y": {"field": "y", "type": "nominal", "sort": ["ROA","ROE","C_I","MO","MLPS","WF_ZAT","AKT_ZAT","WZ_PKB1","PKBPC","DSP","KSP","HHI","LAKT","WW","ZSC","NPL","KPIRZ_KOG","KGD_KOG","K_A","D_A","WPIO","AP_AO","LZAT","CAR","Kryzys","IPS","INT_REG_OG","koszt_REG_OG","M2_M4"],
        "axis": {}},
  "color": {"field": "r", "type": "quantitative",
    "scale": {"domain": [-1, -0.5, 0, 0.5, 1], "range": ["#2955a7", "#6a75b9", "#ffffff", "#f38b8c", "#ee3131"], "interpolate": "rgb"},
    "legend": {"orient": "none", "legendX": 644, "legendY": 0, "direction": "vertical", "gradientLength": 446, "gradientThickness": 29, "gradientStrokeColor": "#111", "gradientStrokeWidth": 1, "values": [-1, -0.5, 0, 0.5, 1], "format": "~g", "labelExpr": "replace(datum.label, '.', ',')", "labelFont": "Open Sans", "labelFontSize": 16, "labelColor": "#111", "labelOffset": 6, "labelBaseline": "middle", "labelOverlap": false, "title": null}}
}
}
